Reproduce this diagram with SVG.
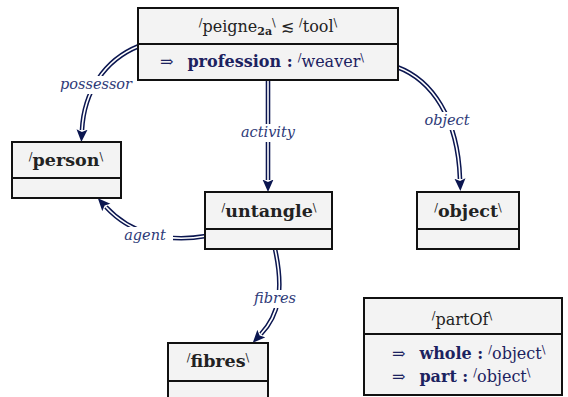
<svg xmlns="http://www.w3.org/2000/svg" width="568" height="397" viewBox="0 0 568 397">
<style>
.box{fill:#f3f3f3;stroke:#111;stroke-width:2}
.t{font-family:'DejaVu Serif','Liberation Serif',serif;font-size:16px;fill:#222}
.nl{font-size:17.5px}
.b{font-weight:bold}
.n{fill:#1c2260}
.s{font-size:11px}
.lab{font-family:'DejaVu Serif','Liberation Serif',serif;font-style:italic;font-size:14.5px;fill:#2e3a78}
.outer{fill:none;stroke:#0b1650;stroke-width:4.6}
.inner{fill:none;stroke:#fff;stroke-width:1.6}
.lbg{fill:#fff}
</style>
<defs>
<marker id="ah" markerUnits="userSpaceOnUse" markerWidth="13" markerHeight="12" viewBox="0 0 13 12" refX="0.5" refY="6" orient="auto">
<path d="M0,0.5 L12.5,6 L0,11.5 L2.5,6 z" fill="#0b1650"/>
</marker>
</defs>
<g id="connectors">
<g id="e-possessor">
<path class="outer" d="M139,46 C104,60 84,92 82,130" marker-end="url(#ah)"/>
<path class="inner" d="M139,46 C104,60 84,92 82,130"/>
</g>
<g id="e-activity">
<path class="outer" d="M268,80 L268,180" marker-end="url(#ah)"/>
<path class="inner" d="M268,80 L268,180"/>
</g>
<g id="e-object">
<path class="outer" d="M397,67 C432,80 458,118 460,179" marker-end="url(#ah)"/>
<path class="inner" d="M397,67 C432,80 458,118 460,179"/>
</g>
<g id="e-agent">
<path class="outer" d="M206,236 C165,243 130,233 106,207" marker-end="url(#ah)"/>
<path class="inner" d="M206,236 C165,243 130,233 106,207"/>
</g>
<g id="e-fibres">
<path class="outer" d="M275,249 C284,290 279,315 261,334" marker-end="url(#ah)"/>
<path class="inner" d="M275,249 C284,290 279,315 261,334"/>
</g>
<g id="labels">
<rect class="lbg" x="55" y="76" width="82" height="18"/>
<text class="lab" x="96" y="89" text-anchor="middle">possessor</text>
<rect class="lbg" x="236" y="124" width="64" height="18"/>
<text class="lab" x="268" y="137" text-anchor="middle">activity</text>
<rect class="lbg" x="422" y="112" width="52" height="18"/>
<text class="lab" x="447" y="125" text-anchor="middle">object</text>
<rect class="lbg" x="119" y="227" width="54" height="18"/>
<text class="lab" x="145" y="240" text-anchor="middle">agent</text>
<rect class="lbg" x="249" y="290" width="54" height="18"/>
<text class="lab" x="275" y="303" text-anchor="middle">fibres</text>
</g>
</g>
<g id="peigne">
<rect class="box" x="138" y="8" width="260" height="72"/>
<line x1="138" y1="44" x2="398" y2="44" stroke="#111" stroke-width="2"/>
<text class="t" x="268" y="32" text-anchor="middle"><tspan class="s" dy="-6">/</tspan><tspan dy="6">peigne</tspan><tspan class="b s" dy="3">2a</tspan><tspan class="s" dy="-9">\</tspan><tspan dy="6"> ≲ </tspan><tspan class="s" dy="-6">/</tspan><tspan dy="6">tool</tspan><tspan class="s" dy="-6">\</tspan></text>
<text class="t n" x="262" y="67" text-anchor="middle">⇒<tspan class="b" dx="14">profession :</tspan> <tspan class="s" dy="-6">/</tspan><tspan dy="6">weaver</tspan><tspan class="s" dy="-6">\</tspan></text>
</g>
<g id="person">
<rect class="box" x="12" y="142" width="109" height="56"/>
<line x1="12" y1="178" x2="121" y2="178" stroke="#111" stroke-width="2"/>
<text class="t nl" x="66" y="166" text-anchor="middle"><tspan class="s" dy="-6">/</tspan><tspan class="b" dy="6">person</tspan><tspan class="s" dy="-6">\</tspan></text>
</g>
<g id="untangle">
<rect class="box" x="205" y="192" width="127" height="57"/>
<line x1="205" y1="229" x2="332" y2="229" stroke="#111" stroke-width="2"/>
<text class="t nl" x="269" y="217" text-anchor="middle"><tspan class="s" dy="-6">/</tspan><tspan class="b" dy="6">untangle</tspan><tspan class="s" dy="-6">\</tspan></text>
</g>
<g id="object">
<rect class="box" x="417" y="192" width="102" height="57"/>
<line x1="417" y1="229" x2="519" y2="229" stroke="#111" stroke-width="2"/>
<text class="t nl" x="468" y="217" text-anchor="middle"><tspan class="s" dy="-6">/</tspan><tspan class="b" dy="6">object</tspan><tspan class="s" dy="-6">\</tspan></text>
</g>
<g id="fibres">
<rect class="box" x="168" y="343" width="100" height="60"/>
<line x1="168" y1="381" x2="268" y2="381" stroke="#111" stroke-width="2"/>
<text class="t nl" x="218" y="367" text-anchor="middle"><tspan class="s" dy="-6">/</tspan><tspan class="b" dy="6">fibres</tspan><tspan class="s" dy="-6">\</tspan></text>
</g>
<g id="partOf">
<rect class="box" x="364" y="298" width="198" height="97"/>
<line x1="364" y1="334" x2="562" y2="334" stroke="#111" stroke-width="2"/>
<text class="t" x="462" y="325" text-anchor="middle"><tspan class="s" dy="-6">/</tspan><tspan dy="6">partOf</tspan><tspan class="s" dy="-6">\</tspan></text>
<text class="t n" x="392" y="359">⇒<tspan class="b" dx="14">whole :</tspan> <tspan class="s" dy="-6">/</tspan><tspan dy="6">object</tspan><tspan class="s" dy="-6">\</tspan></text>
<text class="t n" x="392" y="382">⇒<tspan class="b" dx="14">part :</tspan> <tspan class="s" dy="-6">/</tspan><tspan dy="6">object</tspan><tspan class="s" dy="-6">\</tspan></text>
</g>
</svg>
